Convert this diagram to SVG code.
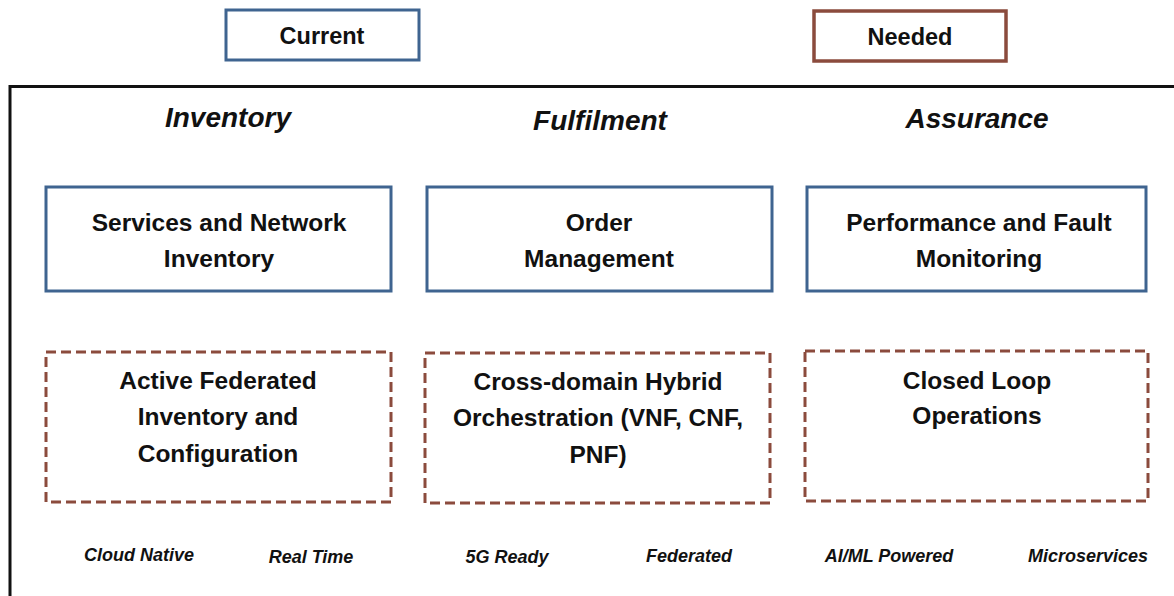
<svg xmlns="http://www.w3.org/2000/svg" width="1174" height="596" viewBox="0 0 1174 596">
<style>
text{font-family:"Liberation Sans",Arial,sans-serif;font-weight:bold;fill:#111;text-anchor:middle}
.cur{fill:#fff;stroke:#3f6490;stroke-width:3}
.need{fill:#fff;stroke:#8b4b3d;stroke-width:3.5}
.dash{fill:none;stroke:#8b4b3d;stroke-width:3;stroke-dasharray:10 5}
.lbl{font-size:24.5px}
.hdr{font-size:28px;font-style:italic}
.tag{font-size:18px;font-style:italic}
.leg{font-size:23.5px}
</style>
<rect width="1174" height="596" fill="#fff"/>
<g id="legend-current"><rect class="cur" x="226" y="10" width="193" height="50"/><text class="leg" x="322" y="44">Current</text></g>
<g id="legend-needed"><rect class="need" x="814" y="11" width="192" height="50"/><text class="leg" x="910" y="45">Needed</text></g>
<g id="frame"><path d="M10 600 V86.5 H1174" fill="none" stroke="#111" stroke-width="3"/></g>
<g id="headers">
<text class="hdr" x="228" y="127">Inventory</text>
<text class="hdr" x="600" y="130">Fulfilment</text>
<text class="hdr" x="977" y="128">Assurance</text>
</g>
<g id="inv-current"><rect class="cur" x="46" y="187" width="345" height="104"/><text class="lbl" x="219" y="231">Services and Network</text><text class="lbl" x="219" y="267">Inventory</text></g>
<g id="ful-current"><rect class="cur" x="427" y="187" width="345" height="104"/><text class="lbl" x="599" y="231">Order</text><text class="lbl" x="599" y="267">Management</text></g>
<g id="ass-current"><rect class="cur" x="807" y="187" width="339" height="104"/><text class="lbl" x="979" y="231">Performance and Fault</text><text class="lbl" x="979" y="267">Monitoring</text></g>
<g id="inv-needed"><rect class="dash" x="46" y="352" width="345" height="150"/><text class="lbl" x="218" y="389">Active Federated</text><text class="lbl" x="218" y="425">Inventory and</text><text class="lbl" x="218" y="462">Configuration</text></g>
<g id="ful-needed"><rect class="dash" x="425" y="353" width="345" height="150"/><text class="lbl" x="598" y="390">Cross-domain Hybrid</text><text class="lbl" x="598" y="426">Orchestration (VNF, CNF,</text><text class="lbl" x="598" y="463">PNF)</text></g>
<g id="ass-needed"><rect class="dash" x="805" y="351" width="343" height="150"/><text class="lbl" x="977" y="389">Closed Loop</text><text class="lbl" x="977" y="424">Operations</text></g>
<g id="tags">
<text class="tag" x="139" y="561">Cloud Native</text>
<text class="tag" x="311" y="563">Real Time</text>
<text class="tag" x="507" y="563">5G Ready</text>
<text class="tag" x="689" y="562">Federated</text>
<text class="tag" x="889" y="562">AI/ML Powered</text>
<text class="tag" x="1088" y="562">Microservices</text>
</g>
<g id="connectors"></g>
</svg>
